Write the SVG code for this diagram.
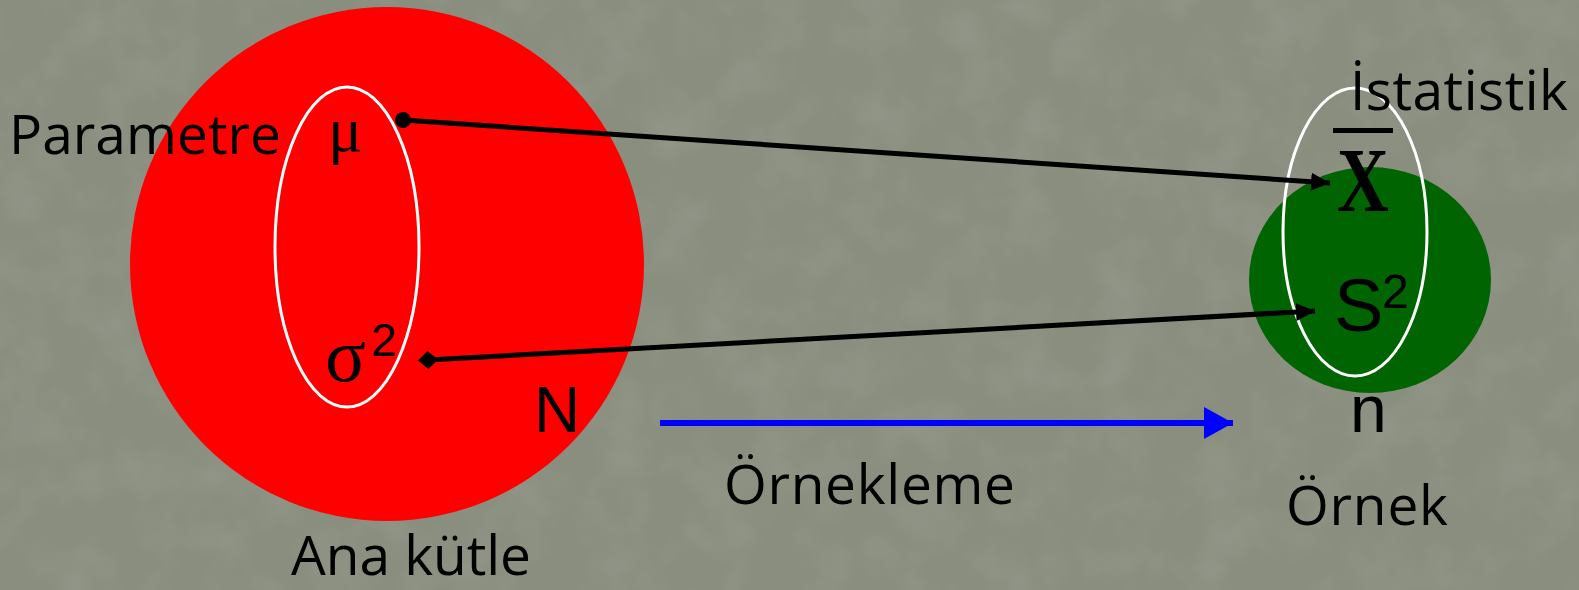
<svg xmlns="http://www.w3.org/2000/svg" width="1579" height="590" viewBox="0 0 1579 590">
<style>
.lbl{font-family:"Open Sans","Noto Sans",sans-serif;font-size:55px;fill:#000}
.ar{font-family:"Liberation Sans",Arial,sans-serif;fill:#000}
.sym{font-family:"Liberation Serif","DejaVu Serif",serif;fill:#000}
.ring{fill:none;stroke:#fff;stroke-width:3}
.conn{stroke:#000;stroke-width:5;fill:none}
</style>
<defs>
<filter id="tex" x="0" y="0" width="100%" height="100%">
<feTurbulence type="fractalNoise" baseFrequency="0.02" numOctaves="3" seed="4"/>
<feColorMatrix type="matrix" values="0 0 0 0 0.5  0 0 0 0 0.52  0 0 0 0 0.46  0 0 0 0.9 -0.35"/>
</filter>
<marker id="ahB" markerUnits="userSpaceOnUse" markerWidth="20" markerHeight="18" refX="19" refY="9" orient="auto">
<path d="M0,0 L19,9 L0,18 Z" fill="#000"/>
</marker>
<marker id="ahBlue" markerUnits="userSpaceOnUse" markerWidth="30" markerHeight="32" refX="29" refY="16" orient="auto">
<path d="M0,0 L29,16 L0,32 Z" fill="#0000ff"/>
</marker>
<marker id="dot" markerUnits="userSpaceOnUse" markerWidth="18" markerHeight="18" refX="9" refY="9" orient="auto">
<circle cx="9" cy="9" r="8" fill="#000"/>
</marker>
<marker id="dia" markerUnits="userSpaceOnUse" markerWidth="20" markerHeight="20" refX="10" refY="10" orient="auto">
<path d="M0,10 L10,1 L20,10 L10,19 Z" fill="#000"/>
</marker>
</defs>
<rect x="0" y="0" width="1579" height="590" fill="#8a8e7f"/>
<rect x="0" y="0" width="1579" height="590" filter="url(#tex)" opacity="0.35"/>

<g id="population">
<circle cx="387" cy="264" r="257" fill="#ff0000"/>
<ellipse class="ring" cx="347" cy="247" rx="72" ry="160"/>
<text class="lbl" x="9" y="154" textLength="272">Parametre</text>
<text class="sym" x="328" y="151" font-size="64">μ</text>
<text class="sym" x="325" y="381" font-size="76">σ</text>
<text class="ar" x="371" y="356" font-size="46">2</text>
<text class="ar" x="534" y="432" font-size="64">N</text>
<text class="lbl" x="291" y="575" textLength="240">Ana kütle</text>
</g>

<g id="sample">
<ellipse cx="1370" cy="280" rx="121" ry="113" fill="#006400"/>
<ellipse class="ring" cx="1355" cy="232" rx="72" ry="144"/>
<text class="lbl" x="1350" y="110" textLength="218">İstatistik</text>
<rect x="1333" y="128" width="60" height="5" fill="#000"/>
<text class="sym" x="1337" y="211" font-size="92" font-weight="bold" textLength="52" lengthAdjust="spacingAndGlyphs">X</text>
<text class="ar" x="1334" y="331" font-size="74">S</text>
<text class="ar" x="1382" y="308" font-size="48">2</text>
<text class="ar" x="1350" y="432" font-size="66">n</text>
<text class="lbl" x="1286" y="525" textLength="162">Örnek</text>
</g>

<g id="sampling-label">
<text class="lbl" x="724" y="504" textLength="291">Örnekleme</text>
</g>

<g id="connectors">
<line class="conn" x1="403" y1="120" x2="1330" y2="183" marker-start="url(#dot)" marker-end="url(#ahB)"/>
<line class="conn" x1="428" y1="360" x2="1315" y2="311" marker-start="url(#dia)" marker-end="url(#ahB)"/>
<line x1="660" y1="423" x2="1233" y2="423" stroke="#0000ff" stroke-width="6" marker-end="url(#ahBlue)"/>
</g>
</svg>
